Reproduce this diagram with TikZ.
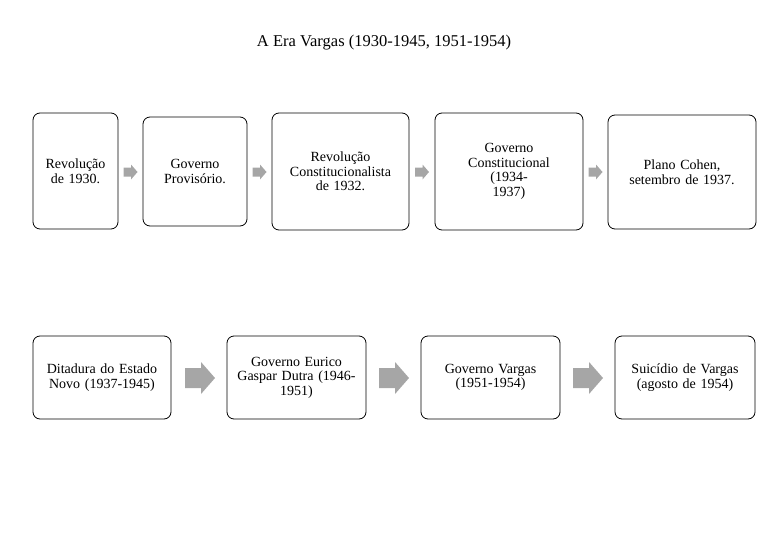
\documentclass[tikz,border=0pt]{standalone}
\usepackage{fontspec}
\setmainfont{Liberation Serif}
\begin{document}
\begin{tikzpicture}[x=1pt,y=-1pt,
 box/.style={draw,rounded corners=7pt,line width=0.8pt,align=center,font=\fontsize{14}{14.5}\selectfont,inner sep=2pt},
 pics/sarr/.style={code={\fill[black!35] (-7,-4.5) -- (0.5,-4.5) -- (0.5,-7.5) -- (7,0) -- (0.5,7.5) -- (0.5,4.5) -- (-7,4.5) -- cycle;}},
 pics/barr/.style={code={\fill[black!35] (-15,-10) -- (1,-10) -- (1,-16) -- (15,0) -- (1,16) -- (1,10) -- (-15,10) -- cycle;}}]
\useasboundingbox (0,0) rectangle (768,543);
\node[font=\fontsize{16.5}{18}\selectfont] (t) at (384,43) {A Era Vargas (1930-1945, 1951-1954)};
\node[box,minimum width=85pt,minimum height=116pt,text width=80pt] (a1) at (75.5,171) {Revolução\\de 1930.};
\node[box,minimum width=104pt,minimum height=109pt,text width=98pt] (a2) at (195,171.5) {Governo\\Provisório.};
\node[box,minimum width=137pt,minimum height=117pt,text width=130pt] (a3) at (340.5,171.5) {Revolução\\Constitucionalista\\de 1932.};
\node[box,minimum width=148pt,minimum height=117pt,text width=120pt] (a4) at (509,171.5) {Governo\\Constitucional (1934-\\1937)};
\node[box,minimum width=148pt,minimum height=114pt,text width=130pt] (a5) at (682,172) {Plano Cohen,\\setembro de 1937.};
\coordinate (s1) at (130.5,172); \pic at (s1) {sarr};
\coordinate (s2) at (259.5,172); \pic at (s2) {sarr};
\coordinate (s3) at (422,172); \pic at (s3) {sarr};
\coordinate (s4) at (595.5,172); \pic at (s4) {sarr};
\node[box,minimum width=138pt,minimum height=83pt,text width=130pt] (b1) at (102,377.5) {Ditadura do Estado\\Novo (1937-1945)};
\node[box,minimum width=139pt,minimum height=83pt,text width=125pt] (b2) at (296.5,377.5) {Governo Eurico\\Gaspar Dutra (1946-\\1951)};
\node[box,minimum width=139pt,minimum height=83pt,text width=130pt] (b3) at (490.5,377.5) {Governo Vargas\\(1951-1954)};
\node[box,minimum width=140pt,minimum height=83pt,text width=130pt] (b4) at (685,377.5) {Suicídio de Vargas\\(agosto de 1954)};
\coordinate (l1) at (200,378); \pic at (l1) {barr};
\coordinate (l2) at (394,378); \pic at (l2) {barr};
\coordinate (l3) at (588,378); \pic at (l3) {barr};
\end{tikzpicture}
\end{document}
